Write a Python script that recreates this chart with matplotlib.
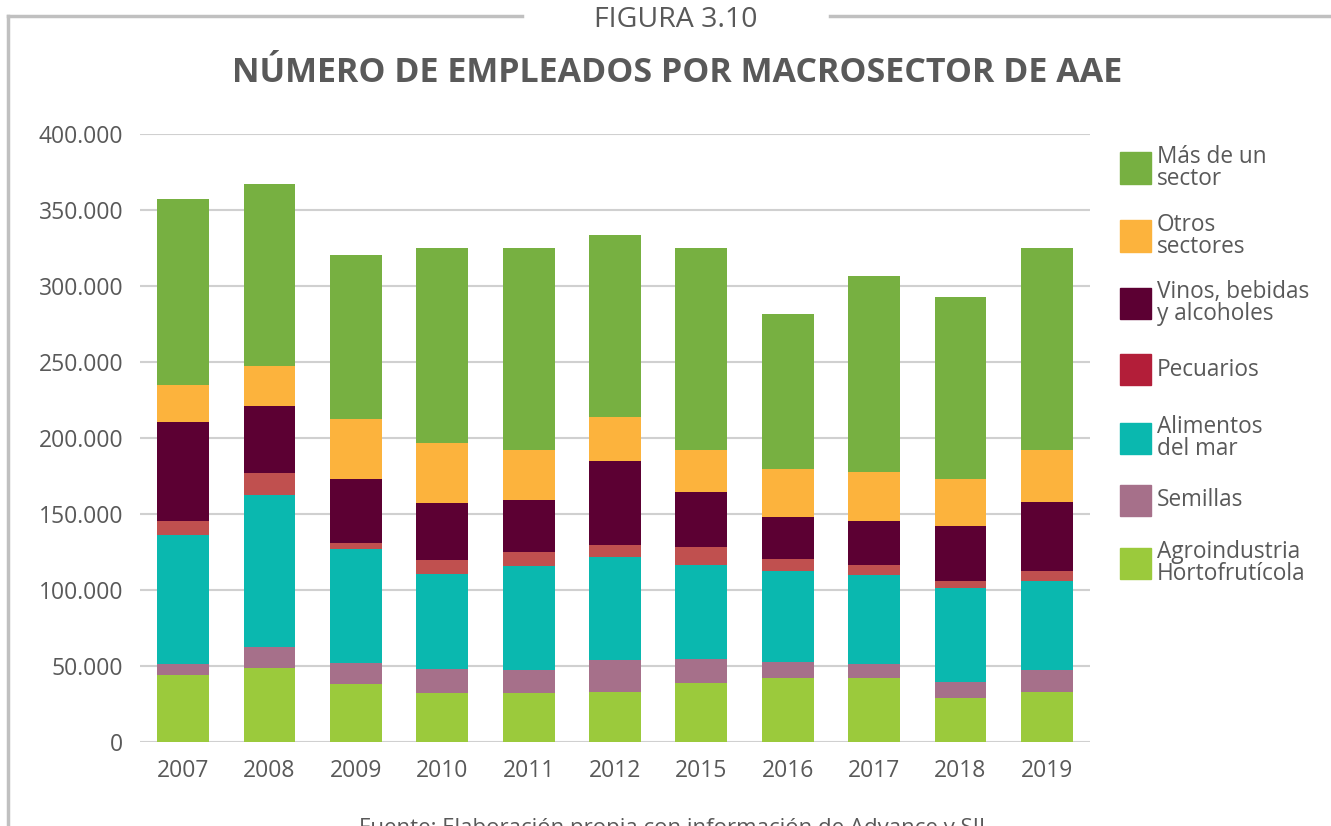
import numpy as np
import matplotlib
matplotlib.use("Agg")
import matplotlib.pyplot as plt
from matplotlib.patches import Rectangle
from matplotlib.lines import Line2D
from matplotlib.ticker import FuncFormatter

plt.rcParams['font.family'] = ['Open Sans', 'DejaVu Sans']

# datos (numero de empleados)
years = ['2007', '2008', '2009', '2010', '2011', '2012', '2015', '2016', '2017', '2018', '2019']
agro = [43800, 48400, 37900, 32500, 32000, 32900, 38500, 41800, 42100, 28900, 32800]
semillas = [7300, 14200, 14400, 15400, 15200, 21000, 15900, 10800, 9300, 10600, 14600]
alimentos = [85400, 99600, 74400, 62700, 68900, 67600, 62200, 59900, 58200, 62100, 58600]
pecuarios = [9000, 14700, 4400, 9300, 9200, 7800, 11800, 7600, 6600, 4000, 6700]
vinos = [64900, 44200, 41600, 37600, 33800, 55500, 35800, 27600, 29500, 36800, 44900]
otros = [24400, 26500, 39900, 39200, 33100, 29100, 28000, 31700, 32000, 30700, 34400]
mas = [122600, 119800, 107600, 128200, 132900, 119900, 132900, 102000, 128700, 119500, 133000]

series = [agro, semillas, alimentos, pecuarios, vinos, otros, mas]
bar_colors = ['#9BCA3C', '#A6708A', '#0AB8AF', '#C0504F', '#5C0033', '#FCB33D', '#77B041']

# leyenda (de arriba hacia abajo)
leg_labels = ['Más de un\nsector', 'Otros\nsectores', 'Vinos, bebidas\ny alcoholes', 'Pecuarios',
              'Alimentos\ndel mar', 'Semillas', 'Agroindustria\nHortofrutícola']
leg_colors = ['#77B041', '#FCB33D', '#5C0033', '#B31E39', '#0AB8AF', '#A6708A', '#9BCA3C']
leg_y = [168, 236, 303, 370, 438, 500, 563]  # px desde arriba

W, H = 1331, 826
txt = '#595959'
fig = plt.figure(figsize=(W / 100, H / 100), dpi=100)
ax = fig.add_axes([140 / W, 1 - 742 / H, 950 / W, (742 - 134) / H])

x = np.arange(len(years))
bottom = np.zeros(len(years))
for vals, c in zip(series, bar_colors):
    ax.bar(x, vals, 0.6, bottom=bottom, color=c, zorder=3)
    bottom += np.array(vals)

ax.set_xlim(-0.5, len(years) - 0.5)
ax.set_ylim(0, 400000)
ax.set_yticks(np.arange(0, 400001, 50000))
ax.yaxis.set_major_formatter(FuncFormatter(lambda v, p: f'{int(v):,}'.replace(',', '.')))
ax.set_xticks(x)
ax.set_xticklabels(years)
ax.grid(axis='y', color='#D0D0D0', linewidth=1.5, zorder=0)
for s in ax.spines.values():
    s.set_visible(False)
ax.tick_params(length=0, labelsize=16.5, colors=txt)
ax.tick_params(axis='y', pad=12)
ax.tick_params(axis='x', pad=12)

# leyenda manual
for lab, c, yy in zip(leg_labels, leg_colors, leg_y):
    fig.add_artist(Rectangle((1120 / W, 1 - (yy + 15.5) / H), 31 / W, 31 / H,
                             transform=fig.transFigure, color=c))
    fig.text(1157 / W, 1 - yy / H, lab, fontsize=16.3, color=txt, va='center', ha='left',
             linespacing=0.9)

# marco
fc = '#C0C0C0'
fig.add_artist(Line2D([8 / W, 8 / W], [1 - 16 / H, 0], color=fc, lw=2.5, transform=fig.transFigure))
fig.add_artist(Line2D([8 / W, 522 / W], [1 - 16 / H, 1 - 16 / H], color=fc, lw=2.5, transform=fig.transFigure))
fig.add_artist(Line2D([830 / W, 1], [1 - 16 / H, 1 - 16 / H], color=fc, lw=2.5, transform=fig.transFigure))

fig.text(676 / W, 1 - 20 / H, 'FIGURA 3.10', fontsize=20.5, color=txt, ha='center', va='center')
fig.text(677 / W, 1 - 73 / H, 'NÚMERO DE EMPLEADOS POR MACROSECTOR DE AAE', fontsize=24.5,
         fontweight='bold', color=txt, ha='center', va='center')
fig.text(672 / W, 8 / H, 'Fuente: Elaboración propia con información de Advance y SII',
         fontsize=16, color=txt, ha='center', va='top')

fig.savefig('out.png', dpi=100)
